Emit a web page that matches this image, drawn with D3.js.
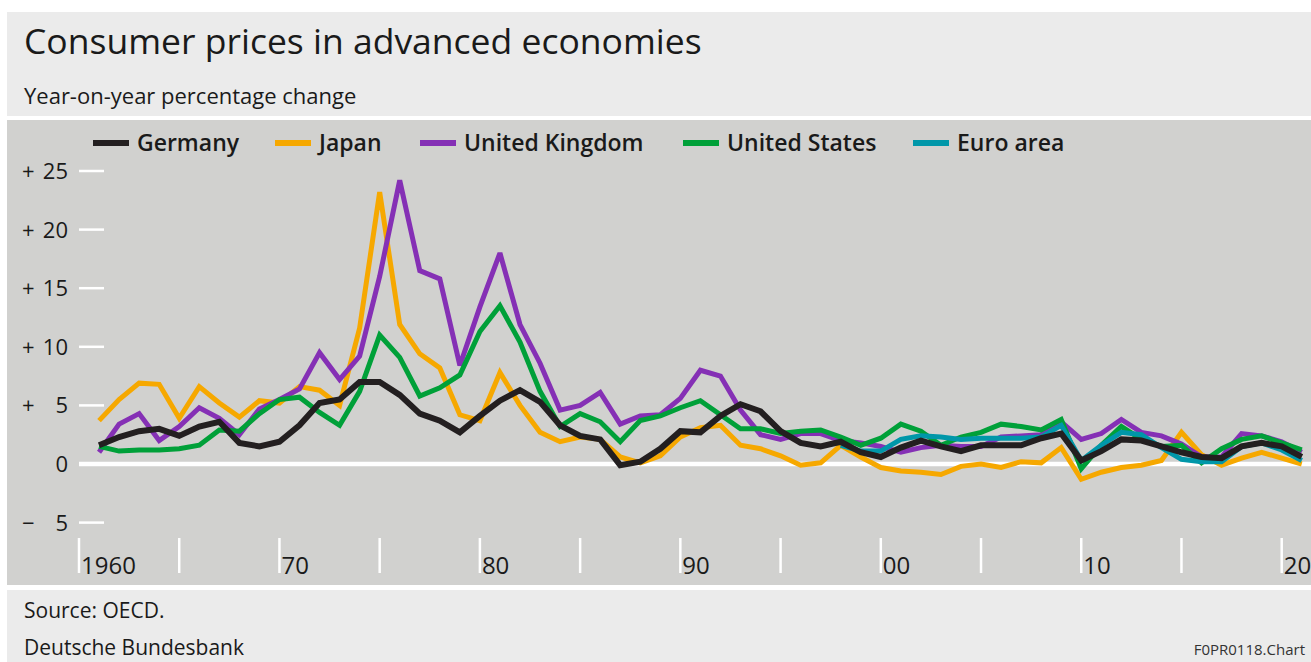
<!DOCTYPE html>
<html>
<head>
<meta charset="utf-8">
<script src="https://cdn.jsdelivr.net/npm/d3@7"></script>
<style>
  body { margin: 0; background: #fff; }
  svg { display: block; font-family: "Open Sans", "Noto Sans", sans-serif; }
</style>
</head>
<body>
<div id="chart"></div>
<script>
// annual values, 1960-2020 (percent change on previous year)
var years = d3.range(1960, 2021);

var germany = [1.6, 2.3, 2.8, 3.0, 2.4, 3.2, 3.6, 1.8, 1.5, 1.9,
  3.3, 5.2, 5.5, 7.0, 7.0, 5.9, 4.3, 3.7, 2.7, 4.1,
  5.4, 6.3, 5.3, 3.3, 2.4, 2.1, -0.1, 0.2, 1.3, 2.8,
  2.7, 4.1, 5.1, 4.5, 2.8, 1.8, 1.5, 1.9, 1.0, 0.6,
  1.4, 2.0, 1.5, 1.1, 1.6, 1.6, 1.6, 2.2, 2.6, 0.3,
  1.1, 2.1, 2.0, 1.5, 1.0, 0.6, 0.5, 1.5, 1.8, 1.5, 0.6];

var japan = [3.7, 5.5, 6.9, 6.8, 3.9, 6.6, 5.2, 4.0, 5.4, 5.2,
  6.6, 6.3, 5.0, 11.6, 23.2, 11.9, 9.4, 8.2, 4.2, 3.7,
  7.8, 5.0, 2.7, 1.9, 2.3, 2.1, 0.6, 0.1, 0.7, 2.3,
  3.1, 3.3, 1.6, 1.3, 0.7, -0.1, 0.1, 1.6, 0.6, -0.3,
  -0.6, -0.7, -0.9, -0.2, 0.0, -0.3, 0.2, 0.1, 1.4, -1.3,
  -0.7, -0.3, -0.1, 0.3, 2.7, 0.8, -0.1, 0.5, 1.0, 0.5, 0.0];

var unitedKingdom = [1.0, 3.4, 4.3, 2.0, 3.2, 4.8, 3.9, 2.5, 4.7, 5.5,
  6.4, 9.5, 7.2, 9.2, 16.0, 24.2, 16.5, 15.8, 8.4, 13.4,
  18.0, 11.9, 8.6, 4.6, 5.0, 6.1, 3.4, 4.1, 4.2, 5.6,
  8.0, 7.5, 4.6, 2.5, 2.1, 2.6, 2.6, 2.0, 1.8, 1.5,
  1.0, 1.4, 1.6, 1.5, 1.5, 2.3, 2.4, 2.5, 3.6, 2.1,
  2.6, 3.8, 2.7, 2.4, 1.7, 0.6, 0.6, 2.6, 2.4, 1.9, 1.0];

var unitedStates = [1.5, 1.1, 1.2, 1.2, 1.3, 1.6, 2.9, 2.8, 4.3, 5.5,
  5.7, 4.4, 3.3, 6.2, 11.0, 9.1, 5.8, 6.5, 7.6, 11.3,
  13.5, 10.4, 6.2, 3.2, 4.3, 3.6, 1.9, 3.7, 4.1, 4.8,
  5.4, 4.2, 3.0, 3.0, 2.6, 2.8, 2.9, 2.3, 1.6, 2.2,
  3.4, 2.8, 1.6, 2.3, 2.7, 3.4, 3.2, 2.9, 3.8, -0.4,
  1.6, 3.2, 2.1, 1.5, 1.6, 0.1, 1.3, 2.1, 2.4, 1.8, 1.2];

var euroArea = [null, null, null, null, null, null, null, null, null, null,
  null, null, null, null, null, null, null, null, null, null,
  null, null, null, null, null, null, null, null, null, null,
  null, null, null, null, null, null, null, 1.6, 1.1, 1.1,
  2.1, 2.4, 2.3, 2.1, 2.2, 2.2, 2.2, 2.3, 3.3, 0.3,
  1.6, 2.7, 2.5, 1.4, 0.4, 0.2, 0.2, 1.5, 1.8, 1.2, 0.3];

var seriesNames = ["Germany", "Japan", "United Kingdom", "United States", "Euro area"];
var seriesColors = ["#231f20", "#f6a800", "#8530b5", "#00a039", "#0097a9"];

var yTicks = [25, 20, 15, 10, 5, 0, -5];
var xTicks = d3.range(1960, 2021, 5);
var xTickLabels = {1960: "1960", 1970: "70", 1980: "80", 1990: "90", 2000: "00", 2010: "10", 2020: "20"};

var W = 1311, H = 662;

var svg = d3.select("#chart").append("svg")
    .attr("width", W)
    .attr("height", H);

// background panels
svg.append("rect").attr("x", 7).attr("y", 12).attr("width", W - 7).attr("height", 104).attr("fill", "#ebebeb");
svg.append("rect").attr("x", 7).attr("y", 120).attr("width", W - 7).attr("height", 465).attr("fill", "#d1d1cf");
svg.append("rect").attr("x", 7).attr("y", 590).attr("width", W - 7).attr("height", 72).attr("fill", "#ebebeb");

svg.append("text").attr("x", 24).attr("y", 54)
    .attr("font-size", 35.5).attr("fill", "#1a1a1a")
    .text("Consumer prices in advanced economies");
svg.append("text").attr("x", 24).attr("y", 104)
    .attr("font-size", 22).attr("fill", "#1a1a1a")
    .text("Year-on-year percentage change");

// scales: a year's value is plotted at the end of that year
var x = d3.scaleLinear().domain([1960, 2020]).range([79, 1281.7]);
var y = d3.scaleLinear().domain([0, 25]).range([464, 171]);

// y ticks
var yt = svg.append("g");
yt.selectAll("line.tick").data(yTicks.filter(function(d) { return d != 0; }))
  .enter().append("line")
    .attr("x1", 79).attr("x2", 104)
    .attr("y1", function(d) { return y(d); })
    .attr("y2", function(d) { return y(d); })
    .attr("stroke", "#fff").attr("stroke-width", 2.5);
yt.selectAll("text.sign").data(yTicks.filter(function(d) { return d != 0; }))
  .enter().append("text")
    .attr("x", 22).attr("y", function(d) { return y(d) + 8; })
    .attr("font-size", 22).attr("fill", "#1a1a1a")
    .text(function(d) { return d > 0 ? "+" : "\u2212"; });
yt.selectAll("text.num").data(yTicks)
  .enter().append("text")
    .attr("x", 68).attr("y", function(d) { return y(d) + 8; })
    .attr("text-anchor", "end")
    .attr("font-size", 22).attr("fill", "#1a1a1a")
    .text(function(d) { return Math.abs(d); });

// zero line
svg.append("line")
    .attr("x1", 79).attr("x2", W)
    .attr("y1", y(0)).attr("y2", y(0))
    .attr("stroke", "#fff").attr("stroke-width", 4.5);

// x ticks
var xt = svg.append("g");
xt.selectAll("line").data(xTicks)
  .enter().append("line")
    .attr("x1", function(d) { return x(d); })
    .attr("x2", function(d) { return x(d); })
    .attr("y1", 538).attr("y2", 573)
    .attr("stroke", "#fff").attr("stroke-width", 2.5);
xt.selectAll("text").data(xTicks.filter(function(d) { return xTickLabels[d]; }))
  .enter().append("text")
    .attr("x", function(d) { return x(d) + 2; })
    .attr("y", 574)
    .attr("font-size", 24).attr("fill", "#1a1a1a")
    .text(function(d) { return xTickLabels[d]; });

// lines
var allSeries = [germany, japan, unitedKingdom, unitedStates, euroArea];
var drawOrder = [1, 2, 3, 4, 0];

var line = d3.line()
    .defined(function(d) { return d.v != null; })
    .x(function(d) { return x(d.year + 1); })
    .y(function(d) { return y(d.v); })
    .curve(d3.curveLinear);

drawOrder.forEach(function(i) {
  var pts = years.map(function(yr, j) { return {year: yr, v: allSeries[i][j]}; });
  svg.append("path")
      .datum(pts)
      .attr("d", line)
      .attr("fill", "none")
      .attr("stroke", seriesColors[i])
      .attr("stroke-width", i == 0 ? 6 : 5)
      .attr("stroke-linejoin", "miter")
      .attr("stroke-miterlimit", 3);
});

// legend
var legendX = [93, 275, 420, 683, 913];
var lg = svg.append("g");
seriesNames.forEach(function(name, i) {
  lg.append("line")
      .attr("x1", legendX[i]).attr("x2", legendX[i] + 36)
      .attr("y1", 143).attr("y2", 143)
      .attr("stroke", seriesColors[i]).attr("stroke-width", 6);
  lg.append("text")
      .attr("x", legendX[i] + 44).attr("y", 151)
      .attr("font-size", 23).attr("font-weight", 600).attr("fill", "#1a1a1a")
      .text(name);
});

// footer
svg.append("text").attr("x", 24).attr("y", 618)
    .attr("font-size", 21).attr("fill", "#1a1a1a").text("Source: OECD.");
svg.append("text").attr("x", 24).attr("y", 655)
    .attr("font-size", 21).attr("fill", "#1a1a1a").text("Deutsche Bundesbank");
svg.append("text").attr("x", 1305).attr("y", 655)
    .attr("text-anchor", "end")
    .attr("font-size", 15).attr("fill", "#333").text("F0PR0118.Chart");
</script>
</body>
</html>
